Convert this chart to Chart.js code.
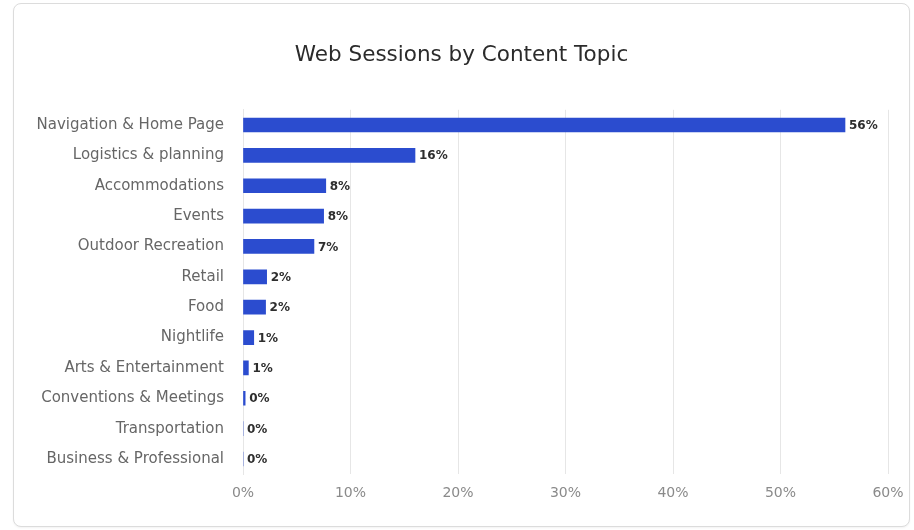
<!DOCTYPE html>
<html>
<head>
<meta charset="utf-8">
<script src="https://cdn.jsdelivr.net/npm/chart.js@4"></script>
<style>
  html, body { margin: 0; padding: 0; background: #fff; }
  .card {
    position: absolute;
    left: 13px;
    top: 3px;
    width: 895px;
    height: 522px;
    border: 1px solid #dcdcdc;
    border-radius: 8px;
    background: #fff;
    box-shadow: 0 1px 2px rgba(0,0,0,0.05);
  }
  .card canvas { display: block; }
</style>
</head>
<body>
<div class="card">
  <canvas id="topicGraph" width="895" height="522"></canvas>
</div>
<script>
const topics = [
  'Navigation & Home Page',
  'Logistics & planning',
  'Accommodations',
  'Events',
  'Outdoor Recreation',
  'Retail',
  'Food',
  'Nightlife',
  'Arts & Entertainment',
  'Conventions & Meetings',
  'Transportation',
  'Business & Professional'
];
const sessionShare = [56, 16, 7.7, 7.5, 6.6, 2.2, 2.1, 1.0, 0.5, 0.2, 0, 0];
const shareTicks = [0, 10, 20, 30, 40, 50, 60];

const fontFamily = "'DejaVu Sans', 'Noto Sans', sans-serif";

// writes the rounded percentage just past the end of each bar
const valueLabels = {
  id: 'valueLabels',
  afterDatasetsDraw(chart) {
    const ctx = chart.ctx;
    const meta = chart.getDatasetMeta(0);
    ctx.save();
    ctx.font = 'bold 12px ' + fontFamily;
    ctx.fillStyle = '#2e2e2e';
    ctx.textAlign = 'left';
    ctx.textBaseline = 'middle';
    meta.data.forEach((bar, i) => {
      const v = chart.data.datasets[0].data[i];
      ctx.fillText(Math.round(v) + '%', bar.x + 4, bar.y + 1);
    });
    ctx.restore();
  }
};

new Chart(document.getElementById('topicGraph'), {
  type: 'bar',
  data: {
    labels: topics,
    datasets: [{
      data: sessionShare,
      backgroundColor: '#2b4ccf',
      borderWidth: 0,
      barThickness: 14
    }]
  },
  plugins: [valueLabels],
  options: {
    indexAxis: 'y',
    responsive: false,
    animation: false,
    layout: {
      padding: { left: 21, right: 21, top: 0, bottom: 13 }
    },
    plugins: {
      legend: { display: false },
      tooltip: { enabled: false },
      title: {
        display: true,
        text: 'Web Sessions by Content Topic',
        color: '#2b2b2b',
        font: { family: fontFamily, size: 21.5, weight: 'normal' },
        padding: { top: 39, bottom: 41 }
      }
    },
    scales: {
      x: {
        min: 0,
        max: 60,
        afterBuildTicks: (scale) => {
          scale.ticks = shareTicks.map(v => ({ value: v }));
        },
        // let the last tick label sit inside the right padding
        afterFit: (scale) => { scale.paddingRight = 0; },
        grid: {
          color: '#e6e6e6',
          drawTicks: false
        },
        border: { display: false },
        ticks: {
          padding: 11,
          color: '#8a8a8a',
          font: { family: fontFamily, size: 14 },
          callback: (v) => v + '%'
        }
      },
      y: {
        grid: { display: false, drawTicks: false },
        border: { color: '#e6e6e6' },
        afterFit: (scale) => { scale.width = 208; },
        ticks: {
          padding: 19,
          color: '#666666',
          font: { family: fontFamily, size: 15 }
        }
      }
    }
  }
});
</script>
</body>
</html>
